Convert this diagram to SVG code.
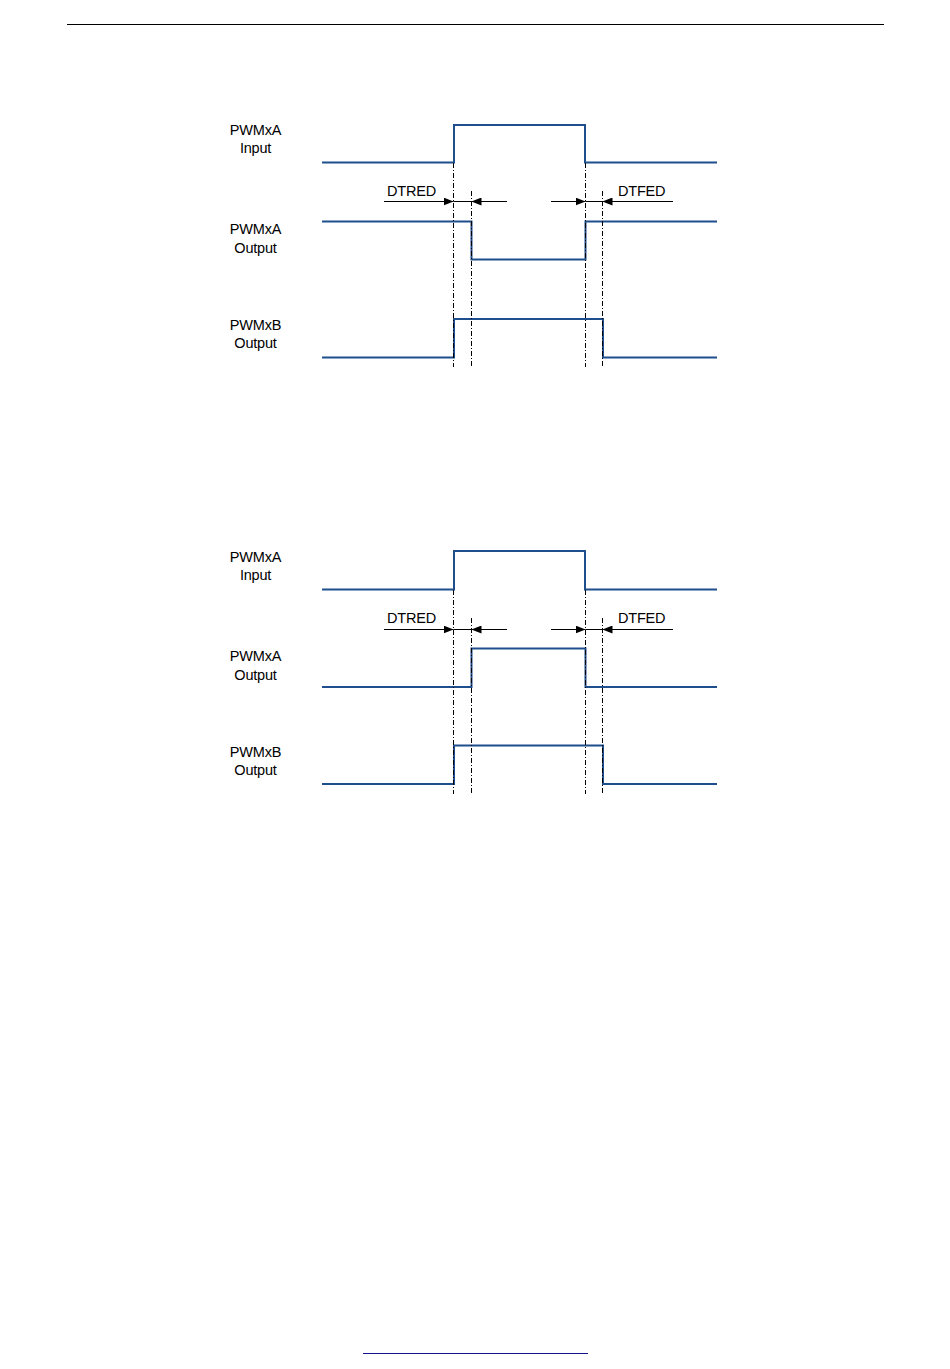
<svg xmlns="http://www.w3.org/2000/svg" width="950" height="1369" viewBox="0 0 950 1369">
<style>
.wave{fill:none;stroke:#1f4e8c;stroke-width:2}
.guide{fill:none;stroke:#000;stroke-width:1;stroke-dasharray:5 2 1 2}
.dim{fill:none;stroke:#000;stroke-width:1}
.lbl{font-family:"Liberation Sans",Arial,sans-serif;font-size:14.5px;fill:#000;letter-spacing:-0.2px}
.c{text-anchor:middle}
</style>
<defs>
<marker id="ah" viewBox="0 0 10 8" refX="10" refY="4" markerWidth="10" markerHeight="8" markerUnits="userSpaceOnUse" orient="auto">
<path d="M0,0 L10,4 L0,8 z" fill="#000"/>
</marker>
</defs>
<rect width="950" height="1369" fill="#fff"/>
<line x1="67" y1="24.5" x2="884" y2="24.5" stroke="#000" stroke-width="1"/>
<line x1="363" y1="1353.5" x2="588" y2="1353.5" stroke="#14148c" stroke-width="1"/>

<g id="diagram1">
<g id="d1-labels">
<text class="lbl c" x="255.5" y="135">PWMxA</text>
<text class="lbl c" x="255.5" y="153">Input</text>
<text class="lbl c" x="255.5" y="234">PWMxA</text>
<text class="lbl c" x="255.5" y="252.5">Output</text>
<text class="lbl c" x="255.5" y="330">PWMxB</text>
<text class="lbl c" x="255.5" y="348">Output</text>
<text class="lbl" x="387" y="196">DTRED</text>
<text class="lbl" x="618" y="196">DTFED</text>
</g>
<g id="d1-waves">
<path class="wave" d="M322,162.5 H454 V125 H585 V162.5 H717"/>
<path class="wave" d="M322,221.5 H471.5 V259.5 H585.5 V221.5 H717"/>
<path class="wave" d="M322,357.5 H454 V319 H603 V357.5 H717"/>
</g>
<g id="d1-connectors">
<path class="guide" d="M453.5,163 V367"/>
<path class="guide" d="M471.5,191 V367"/>
<path class="guide" d="M585.5,163 V367"/>
<path class="guide" d="M602.5,191 V367"/>
<path class="dim" d="M384,201.5 H453.5" marker-end="url(#ah)"/>
<path class="dim" d="M453.5,201.5 H471.5"/>
<path class="dim" d="M507,201.5 H471.5" marker-end="url(#ah)"/>
<path class="dim" d="M551,201.5 H585.5" marker-end="url(#ah)"/>
<path class="dim" d="M585.5,201.5 H602.5"/>
<path class="dim" d="M673,201.5 H602.5" marker-end="url(#ah)"/>
</g>
</g>

<g id="diagram2">
<g id="d2-labels">
<text class="lbl c" x="255.5" y="562">PWMxA</text>
<text class="lbl c" x="255.5" y="580">Input</text>
<text class="lbl c" x="255.5" y="661">PWMxA</text>
<text class="lbl c" x="255.5" y="679.5">Output</text>
<text class="lbl c" x="255.5" y="757">PWMxB</text>
<text class="lbl c" x="255.5" y="775">Output</text>
<text class="lbl" x="387" y="623">DTRED</text>
<text class="lbl" x="618" y="623">DTFED</text>
</g>
<g id="d2-waves">
<path class="wave" d="M322,589.5 H454 V551 H585 V589.5 H717"/>
<path class="wave" d="M322,687 H471.5 V648.5 H585.5 V687 H717"/>
<path class="wave" d="M322,784 H454 V745.5 H603 V784 H717"/>
</g>
<g id="d2-connectors">
<path class="guide" d="M453.5,590 V794"/>
<path class="guide" d="M471.5,618 V794"/>
<path class="guide" d="M585.5,590 V794"/>
<path class="guide" d="M602.5,618 V794"/>
<path class="dim" d="M384,629.5 H453.5" marker-end="url(#ah)"/>
<path class="dim" d="M453.5,629.5 H471.5"/>
<path class="dim" d="M507,629.5 H471.5" marker-end="url(#ah)"/>
<path class="dim" d="M551,629.5 H585.5" marker-end="url(#ah)"/>
<path class="dim" d="M585.5,629.5 H602.5"/>
<path class="dim" d="M673,629.5 H602.5" marker-end="url(#ah)"/>
</g>
</g>
</svg>
